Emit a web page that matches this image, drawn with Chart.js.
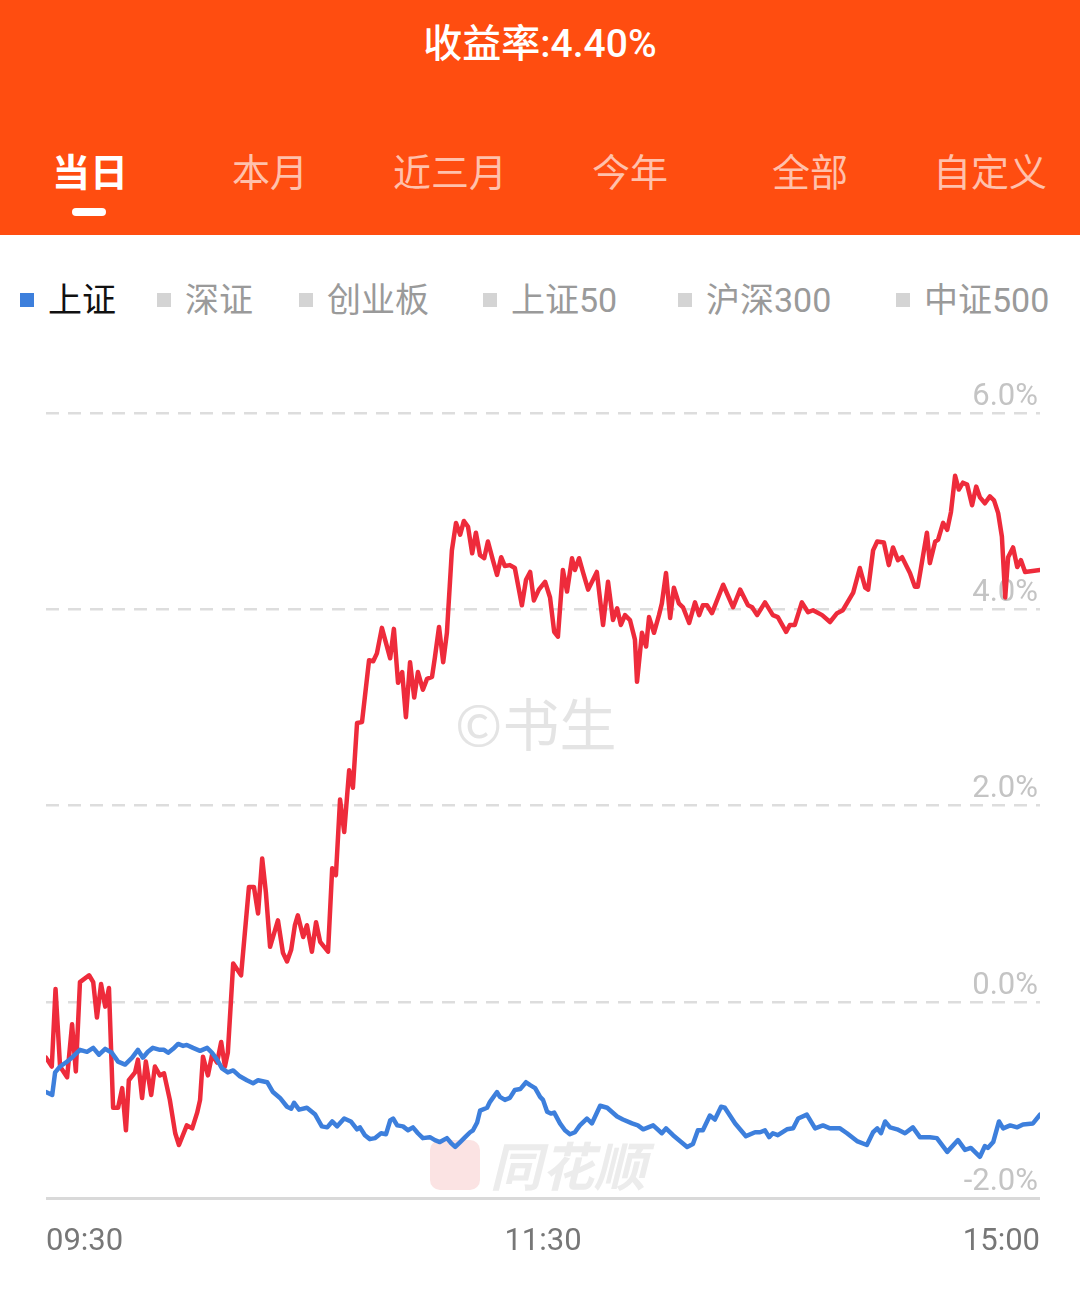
<!DOCTYPE html>
<html><head><meta charset="utf-8">
<script src="https://cdn.jsdelivr.net/npm/chart.js@4.4.1/dist/chart.umd.min.js"></script>
<style>
html,body{margin:0;padding:0;background:#fff;width:1080px;height:1295px;overflow:hidden;font-family:Roboto,"Noto Sans CJK SC",sans-serif;}
#header{position:absolute;left:0;top:0;width:1080px;height:235px;background:#FF4D10;}
#title{position:absolute;top:16px;left:0;width:1080px;text-align:center;color:#fff;font-size:39px;line-height:56px;font-weight:500;}
.tab{position:absolute;top:142px;width:180px;text-align:center;font-size:38px;line-height:56px;color:rgba(255,255,255,0.66);font-family:"Noto Sans CJK SC",sans-serif;}
.tab.active{color:#fff;font-weight:bold;}
#ind{position:absolute;left:72px;top:208px;width:34px;height:8px;border-radius:4px;background:#fff;}
.lg{position:absolute;top:278px;height:44px;font-size:34px;line-height:44px;color:#9a9a9a;white-space:nowrap;}
.lg i{display:inline-block;width:14px;height:14px;background:#d4d4d4;margin-right:14px;vertical-align:middle;position:relative;top:-3px;}
.lg.on{color:#111;}
.lg.on i{background:#3D7FDC;}
#wm1{position:absolute;left:455px;top:686px;font-size:57px;line-height:70px;color:#e4e4e4;font-family:"Noto Sans CJK SC",sans-serif;}
#wm2{position:absolute;left:430px;top:1140px;width:240px;height:52px;}
#wm2 .sq{position:absolute;left:0;top:0;width:50px;height:50px;border-radius:10px;background:#fbe3e3;}
#wm2 .tx{position:absolute;left:60px;top:-8px;font-size:52px;line-height:64px;font-weight:bold;font-style:italic;color:#ececec;font-family:"Noto Sans CJK SC",sans-serif;}
#wrap{position:absolute;left:0;top:340px;width:1080px;height:955px;}
</style></head>
<body>
<div id="header">
  <div id="title">收益率:4.40%</div>
  <div class="tab active" style="left:0">当日</div>
  <div class="tab" style="left:180px">本月</div>
  <div class="tab" style="left:360px">近三月</div>
  <div class="tab" style="left:540px">今年</div>
  <div class="tab" style="left:720px">全部</div>
  <div class="tab" style="left:900px">自定义</div>
  <div id="ind"></div>
</div>
<div id="legend"></div>
<div id="wm1">©书生</div>
<div id="wm2"><div class="sq"></div><div class="tx">同花顺</div></div>
<div id="wrap"><canvas id="c" width="1080" height="955"></canvas></div>
<script>
// ---- data ----
const legendNames = ['上证','深证','创业板','上证50','沪深300','中证500'];
const legendX = [20,157,299,483,678,896];
const timeLabels = ['09:30','11:30','15:00'];
const tickMinutes = [0,120,240];
const yTicks = [-2,0,2,4,6];

// portfolio return (%), minutes after 09:30 (trading minutes)
const portfolioMinutes = [0,1.4,2.3,3.4,5.1,6.3,7.2,8.2,10.4,11.4,12.3,13.3,14.3,15.2,16.2,17.4,18.4,19.3,20.0,21.5,22.2,23.2,24.1,25.4,26.3,27.5,28.5,29.9,31.2,32.1,34.0,35.3,36.5,37.2,37.9,39.1,40.1,41.3,42.3,43.2,43.9,45.2,47.1,49.0,50.2,51.2,52.2,53.1,54.1,56.0,57.2,58.2,59.2,60.1,60.8,62.1,63.0,64.2,65.2,66.2,68.1,69.1,70.0,71.0,72.0,73.2,74.1,75.1,76.3,78.0,79.0,79.9,81.1,83.1,84.0,85.0,86.0,86.9,87.9,88.9,89.8,91.0,92.0,93.2,93.9,94.9,95.9,96.8,98.0,99.0,100.0,100.9,101.9,102.9,103.8,104.8,105.8,106.7,107.9,108.9,109.9,110.8,112.0,113.2,114.9,115.9,116.9,117.8,119.0,120.5,121.7,122.7,123.6,124.8,125.8,127.0,127.7,128.7,129.7,130.9,133.0,134.5,135.7,136.9,137.9,138.8,139.8,141.0,142.2,142.7,143.9,144.9,145.6,146.8,148.0,148.7,149.7,150.7,151.6,152.8,153.8,155.3,156.7,157.7,158.6,159.6,160.8,163.5,165.9,167.6,169.5,170.5,171.7,173.6,175.5,176.7,178.7,179.6,180.8,182.5,184.0,185.2,187.4,189.3,191.0,192.4,194.9,196.5,197.8,198.5,199.7,200.7,202.3,203.5,204.5,205.7,206.7,208.6,209.8,210.5,212.7,213.4,214.7,215.4,216.6,217.6,218.5,219.5,220.4,221.4,222.4,223.6,224.6,225.5,226.7,227.9,228.9,229.9,230.8,231.6,232.3,233.5,234.5,235.4,236.4,240];
const portfolioValues = [-0.57,-0.66,0.13,-0.66,-0.77,-0.23,-0.71,0.20,0.27,0.20,-0.16,0.18,-0.05,0.14,-1.08,-1.08,-0.88,-1.31,-0.80,-0.72,-0.59,-0.98,-0.61,-0.95,-0.66,-0.75,-0.73,-1.00,-1.34,-1.46,-1.26,-1.29,-1.13,-1.00,-0.56,-0.75,-0.54,-0.62,-0.41,-0.66,-0.52,0.39,0.27,1.17,1.17,0.90,1.46,1.11,0.56,0.83,0.50,0.41,0.53,0.78,0.88,0.66,0.78,0.51,0.81,0.61,0.51,1.36,1.29,2.06,1.73,2.36,2.18,2.84,2.85,3.48,3.47,3.55,3.81,3.50,3.80,3.25,3.36,2.90,3.46,3.10,3.36,3.18,3.29,3.31,3.51,3.82,3.46,3.76,4.60,4.88,4.76,4.90,4.84,4.57,4.78,4.55,4.52,4.69,4.50,4.35,4.53,4.44,4.45,4.42,4.04,4.30,4.38,4.09,4.20,4.28,4.12,3.77,3.72,4.40,4.18,4.52,4.40,4.52,4.37,4.20,4.38,3.84,4.28,3.89,4.01,3.84,3.94,3.89,3.69,3.26,3.76,3.62,3.92,3.76,3.94,4.06,4.37,3.91,4.22,4.06,4.02,3.86,4.07,3.94,4.04,4.04,3.96,4.25,4.02,4.20,4.04,4.02,3.94,4.07,3.94,3.92,3.77,3.84,3.84,4.07,3.97,3.99,3.94,3.87,3.96,3.99,4.17,4.42,4.22,4.20,4.60,4.69,4.68,4.45,4.63,4.50,4.53,4.37,4.23,4.23,4.78,4.47,4.69,4.71,4.88,4.81,4.99,5.36,5.22,5.29,5.27,5.06,5.25,5.14,5.08,5.15,5.11,4.98,4.74,4.12,4.53,4.63,4.43,4.50,4.38,4.40];

// 上证 index change (%)
const shMinutes = [0,1.5,2.2,3.4,5.1,6.5,8.2,9.9,11.4,12.8,14.3,15.9,17.4,19.1,20.8,22.2,23.4,24.6,25.8,27.5,28.5,29.5,30.7,31.9,33.1,34.0,35.5,37.2,38.9,40.1,41.3,42.5,43.9,45.2,46.8,48.5,50.0,51.2,53.4,54.8,56.5,58.2,59.2,59.9,61.1,63.0,65.0,66.6,67.9,69.1,70.3,72.0,73.6,75.1,75.8,77.0,78.2,79.4,80.9,82.1,83.1,83.8,84.8,86.2,87.4,88.6,89.8,91.0,92.7,93.9,95.1,96.8,97.8,98.8,100.0,101.2,102.4,103.1,104.1,104.8,106.5,107.2,108.9,109.6,110.8,112.0,113.2,114.5,115.9,116.9,118.1,119.3,120.0,121.0,121.9,122.7,124.1,125.3,126.5,127.7,128.9,130.6,131.8,133.8,135.5,137.9,139.3,141.5,142.9,144.2,145.4,146.6,148.7,149.7,151.4,154.8,156.2,157.4,158.6,160.3,161.5,163.0,163.9,166.4,169.0,171.2,172.4,173.6,174.6,175.5,176.7,178.9,180.4,181.6,183.7,185.7,187.6,189.3,191.7,193.4,195.8,198.2,199.7,200.7,201.6,202.6,203.8,205.5,207.4,209.3,211.0,213.4,215.1,217.6,220.2,221.9,223.3,225.5,226.7,227.4,228.7,230.1,231.1,232.8,234.5,235.9,238.3,240];
const shValues = [-0.92,-0.95,-0.72,-0.66,-0.61,-0.56,-0.49,-0.51,-0.47,-0.54,-0.48,-0.52,-0.61,-0.64,-0.57,-0.49,-0.57,-0.51,-0.47,-0.49,-0.49,-0.52,-0.48,-0.43,-0.45,-0.44,-0.47,-0.50,-0.47,-0.52,-0.59,-0.68,-0.72,-0.70,-0.76,-0.80,-0.83,-0.80,-0.82,-0.92,-0.98,-1.07,-1.09,-1.03,-1.10,-1.08,-1.15,-1.27,-1.28,-1.22,-1.27,-1.19,-1.22,-1.30,-1.28,-1.36,-1.40,-1.39,-1.34,-1.35,-1.21,-1.19,-1.26,-1.27,-1.31,-1.28,-1.34,-1.39,-1.38,-1.41,-1.43,-1.39,-1.44,-1.48,-1.43,-1.38,-1.33,-1.31,-1.23,-1.11,-1.08,-1.02,-0.92,-0.97,-1.00,-0.98,-0.90,-0.89,-0.82,-0.85,-0.88,-0.97,-1.00,-1.12,-1.14,-1.13,-1.24,-1.31,-1.35,-1.33,-1.26,-1.19,-1.24,-1.06,-1.08,-1.17,-1.20,-1.24,-1.26,-1.30,-1.28,-1.26,-1.34,-1.29,-1.36,-1.48,-1.45,-1.31,-1.31,-1.16,-1.20,-1.07,-1.08,-1.24,-1.37,-1.33,-1.33,-1.31,-1.38,-1.34,-1.36,-1.30,-1.29,-1.19,-1.15,-1.29,-1.26,-1.29,-1.29,-1.34,-1.42,-1.46,-1.33,-1.29,-1.34,-1.22,-1.28,-1.30,-1.34,-1.28,-1.38,-1.38,-1.39,-1.53,-1.41,-1.51,-1.49,-1.58,-1.47,-1.49,-1.43,-1.22,-1.29,-1.26,-1.28,-1.25,-1.24,-1.15];

// ---- legend (HTML) ----
const lg = document.getElementById('legend');
legendNames.forEach((n,i)=>{
  const d=document.createElement('div');
  d.className='lg'+(i===0?' on':'');
  d.style.left=legendX[i]+'px';
  d.innerHTML='<i></i>'+n;
  lg.appendChild(d);
});

// ---- chart ----
const toPts=(xs,ys)=>xs.map((m,i)=>({x:m,y:ys[i]}));
new Chart(document.getElementById('c'),{
  type:'line',
  data:{datasets:[
    {label:'上证',data:toPts(shMinutes,shValues),borderColor:'#3D7FDC',borderWidth:4.5,pointRadius:0,tension:0,order:0,borderJoinStyle:'round',borderCapStyle:'round'},
    {label:'收益率',data:toPts(portfolioMinutes,portfolioValues),borderColor:'#EE2B3B',borderWidth:4.5,pointRadius:0,tension:0,order:1,borderJoinStyle:'round',borderCapStyle:'round'}
  ]},
  options:{
    responsive:false,animation:false,
    layout:{padding:{top:73,left:46,right:40,bottom:0}},
    plugins:{legend:{display:false},tooltip:{enabled:false}},
    scales:{
      x:{type:'linear',min:0,max:240,
        afterBuildTicks:s=>{s.ticks=tickMinutes.map(v=>({value:v}));},
        grid:{display:false,drawTicks:false},border:{display:false},
        ticks:{align:'inner',maxRotation:0,autoSkip:false,padding:26,color:'#777',font:{size:31,family:'Roboto'},
          callback:(v)=>timeLabels[tickMinutes.indexOf(v)]},
        afterFit:s=>{s.height=97;}
      },
      y:{type:'linear',position:'right',min:-2,max:6,
        afterBuildTicks:s=>{s.ticks=yTicks.map(v=>({value:v}));},
        grid:{drawTicks:false,color:c=>c.tick&&c.tick.value===-2?'#d9d9d9':'#dddddd',lineWidth:c=>c.tick&&c.tick.value===-2?3:2.5},
        border:{display:false,dash:c=>c.tick&&c.tick.value===-2?[]:[13,9]},
        ticks:{mirror:true,padding:-2,labelOffset:-16,color:'#c4c4c4',font:{size:31,family:'Roboto'},
          callback:v=>v.toFixed(1)+'%'},
        afterFit:s=>{s.width=0;}
      }
    }
  }
});
</script>
</body></html>
